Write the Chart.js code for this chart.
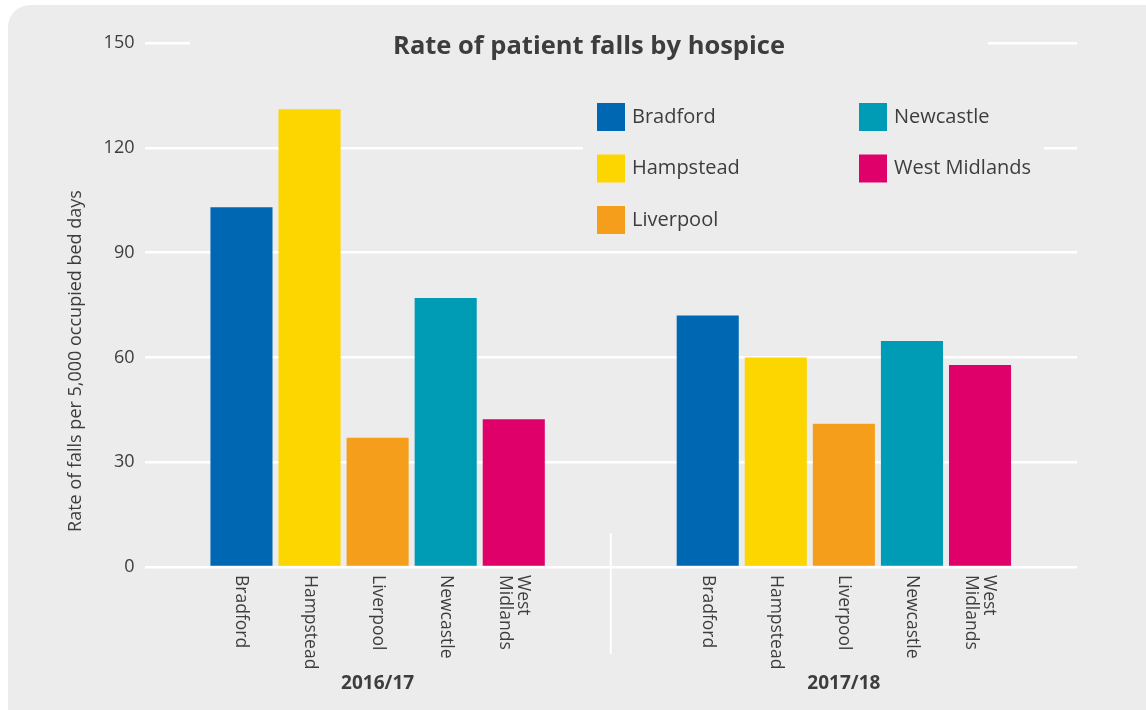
<!DOCTYPE html>
<html>
<head>
<meta charset="utf-8">
<script src="https://cdn.jsdelivr.net/npm/chart.js@4/dist/chart.umd.min.js"></script>
<style>
  html, body { margin: 0; padding: 0; background: #fff; overflow: hidden; }
  #card { position: absolute; left: 8px; top: 5px; width: 1180px; height: 740px; background: #ececec; border-radius: 22px; }
  #chart { position: absolute; left: 0; top: 0; }
</style>
</head>
<body>
<div id="card"></div>
<canvas id="chart" width="1146" height="710"></canvas>
<script>
// Data
const years = ["2016/17", "2017/18"];
const hospices = ["Bradford", "Hampstead", "Liverpool", "Newcastle", "West Midlands"];
const bradford = [103, 72];
const hampstead = [131, 60];
const liverpool = [37, 41];
const newcastle = [77, 64.7];
const westMidlands = [42.3, 57.8];
const yTicks = [0, 30, 60, 90, 120, 150];

const colors = ["#0068b3", "#fdd600", "#f59e1c", "#009bb4", "#e0006a"];
const seriesValues = [bradford, hampstead, liverpool, newcastle, westMidlands];

const TEXT = "#3d3d3d";
const BG = "#ececec";
const FONT = "'Open Sans', sans-serif";

// Title, legend, axis title, bar labels and separator
const decorPlugin = {
    id: "decor",
    afterDraw(chart) {
        const ctx = chart.ctx;
        const x = chart.scales.x;
        ctx.save();

        // separator between the two years
        const sepX = (x.getPixelForTick(0) + x.getPixelForTick(1)) / 2;
        ctx.strokeStyle = "#ffffff";
        ctx.lineWidth = 2;
        ctx.beginPath();
        ctx.moveTo(sepX, 533);
        ctx.lineTo(sepX, 654);
        ctx.stroke();

        // title (with background hiding the top gridline)
        ctx.fillStyle = BG;
        ctx.fillRect(190, 30, 798, 32);
        ctx.fillStyle = TEXT;
        ctx.font = "bold 25.5px " + FONT;
        ctx.textAlign = "center";
        ctx.textBaseline = "middle";
        ctx.fillText("Rate of patient falls by hospice", 589, 47);

        // legend
        ctx.fillStyle = BG;
        ctx.fillRect(583, 88, 461, 154);
        ctx.font = "20px " + FONT;
        ctx.textAlign = "left";
        chart.data.datasets.forEach((ds, i) => {
            const col = Math.floor(i / 3);
            const row = i % 3;
            const bx = 597 + col * 262;
            const cy = 117 + row * 51.5;
            ctx.fillStyle = ds.backgroundColor;
            ctx.fillRect(bx, cy - 14, 28, 28);
            ctx.fillStyle = TEXT;
            ctx.fillText(ds.label, bx + 35, cy);
        });

        // y axis title
        ctx.save();
        ctx.translate(76, 361);
        ctx.rotate(-Math.PI / 2);
        ctx.font = "18px " + FONT;
        ctx.textAlign = "center";
        ctx.fillStyle = TEXT;
        ctx.fillText("Rate of falls per 5,000 occupied bed days", 0, 0);
        ctx.restore();

        // hospice names under each bar
        ctx.font = "17.5px " + FONT;
        ctx.fillStyle = TEXT;
        chart.data.datasets.forEach((ds, i) => {
            const meta = chart.getDatasetMeta(i);
            const lines = ds.label.split(" ");
            meta.data.forEach(bar => {
                ctx.save();
                ctx.translate(bar.x, chart.chartArea.bottom + 8);
                ctx.rotate(Math.PI / 2);
                ctx.textAlign = "left";
                ctx.textBaseline = "middle";
                const lh = 18;
                lines.forEach((ln, k) => {
                    ctx.fillText(ln, 0, (k - (lines.length - 1) / 2) * lh);
                });
                ctx.restore();
            });
        });

        ctx.restore();
    }
};

new Chart(document.getElementById("chart"), {
    type: "bar",
    data: {
        labels: years,
        datasets: hospices.map((name, i) => ({
            label: name,
            data: seriesValues[i],
            backgroundColor: colors[i],
            categoryPercentage: 0.73,
            barPercentage: 0.912
        }))
    },
    options: {
        responsive: false,
        animation: false,
        layout: { padding: { top: 43, right: 69, left: 0, bottom: 0 } },
        plugins: {
            legend: { display: false },
            title: { display: false },
            tooltip: { enabled: false }
        },
        scales: {
            x: {
                grid: { display: false, drawTicks: false },
                border: { display: false },
                ticks: {
                    color: TEXT,
                    font: { family: FONT, size: 19, weight: "bold" },
                    padding: 105,
                    maxRotation: 0
                },
                afterFit(scale) { scale.height = 143; }
            },
            y: {
                min: 0,
                max: 150,
                afterBuildTicks(scale) { scale.ticks = yTicks.map(v => ({ value: v })); },
                grid: { color: "#ffffff", lineWidth: 2.5, drawTicks: false },
                border: { display: false },
                ticks: {
                    color: TEXT,
                    font: { family: FONT, size: 18 },
                    padding: 10
                },
                afterFit(scale) { scale.width = 144.5; }
            }
        }
    },
    plugins: [decorPlugin]
});
</script>
</body>
</html>
